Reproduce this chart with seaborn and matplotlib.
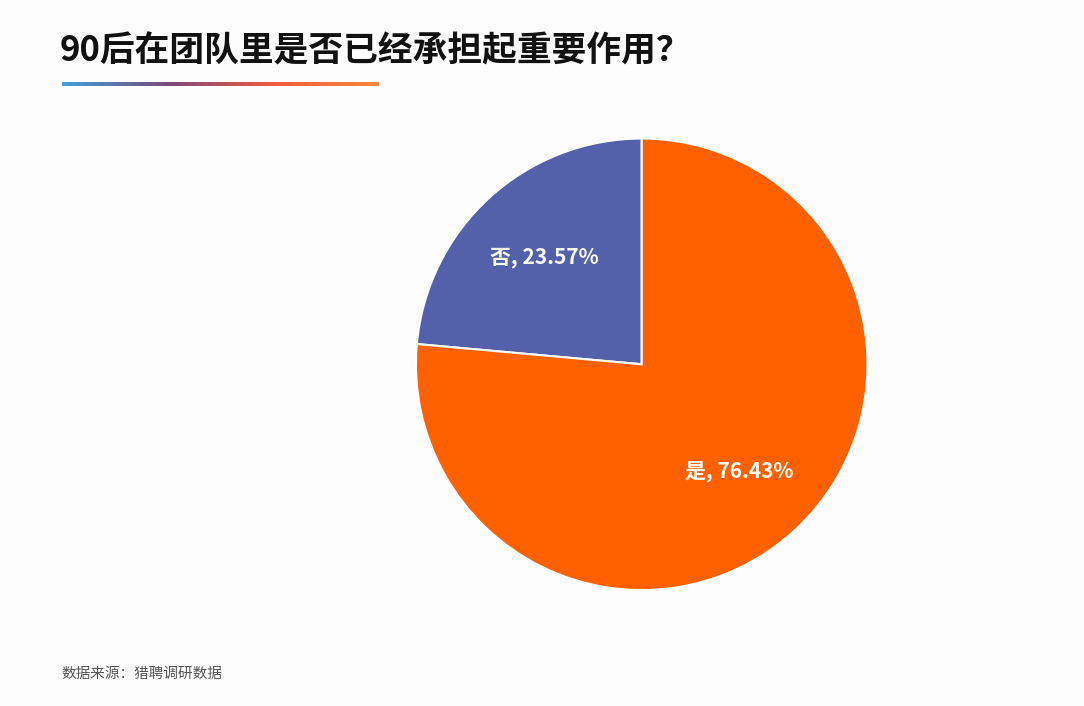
import matplotlib
matplotlib.use("Agg")
import matplotlib.pyplot as plt
import seaborn as sns
import numpy as np
from matplotlib.colors import LinearSegmentedColormap

sns.set_theme(style="white")
plt.rcParams['font.family'] = ['Noto Sans CJK SC', 'DejaVu Sans']

categories = ["否", "是"]
values = [23.57, 76.43]
colors = ["#5361AB", "#FF6100"]
title = "90后在团队里是否已经承担起重要作用？"
source = "数据来源：猎聘调研数据"

fig = plt.figure(figsize=(10.84, 7.06), dpi=100)
fig.patch.set_facecolor("#FDFDFD")

fig.text(0.055, 0.928, title, fontsize=25, fontweight="bold", color="#111111", va="center")
lax = fig.add_axes([0.057, 0.878, 0.292, 0.006])
grad = np.linspace(0, 1, 256).reshape(1, -1)
cmap = LinearSegmentedColormap.from_list("g", ["#3FA2DC", "#7A4A7A", "#F25A40", "#F5893A"])
lax.imshow(grad, aspect="auto", cmap=cmap)
lax.axis("off")

fig.text(0.057, 0.045, source, fontsize=10.5, color="#555555", va="center")

ax = fig.add_axes([0.592 - 0.2104, 0.484 - 0.323, 0.4208, 0.646])
idx = [0]
def fmt(p):
    s = f"{categories[idx[0]]}, {values[idx[0]]:.2f}%"
    idx[0] += 1
    return s
ax.pie(values, colors=colors, startangle=90, counterclock=True, autopct=fmt,
       pctdistance=0.64, textprops=dict(color="white", fontsize=15, fontweight="bold"),
       wedgeprops=dict(edgecolor="white", linewidth=1.5))
ax.set_xlim(-1.01, 1.01)
ax.set_ylim(-1.01, 1.01)
ax.set_aspect("equal")

fig.savefig("out.png", dpi=100, facecolor=fig.get_facecolor())
